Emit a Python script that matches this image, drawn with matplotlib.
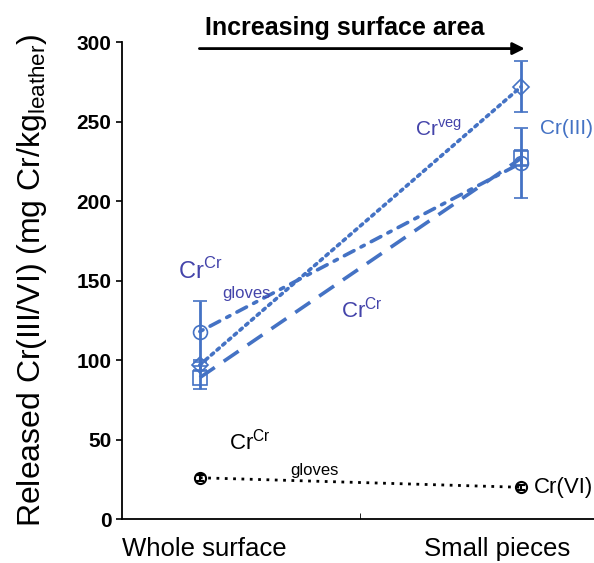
import numpy as np
import matplotlib.pyplot as plt

plt.rcParams['font.family'] = ['Liberation Sans', 'DejaVu Sans']

# x positions: whole surface / small pieces
x = np.array([1, 2])
xlabels = ['Whole surface', 'Small pieces']
xlabel_pos = [1.015, 1.925]

# Cr(III) series
veg = [97, 272]
veg_err = [3, 16]
gloves = [118, 224]
gloves_err = [19, 22]
crcr = [89, 227]
crcr_err = [7, 5]

# Cr(VI) series
cr6 = [26, 20]
cr6_err = [2, 1.5]

blue = '#4472c4'
lab = '#4444aa'

fig = plt.figure(figsize=(5.94, 5.63), dpi=100)
ax = fig.add_axes([0.205, 0.078, 0.795, 0.847])

ax.errorbar(x, gloves, yerr=gloves_err, color=blue, ls=(0, (1, 2.2, 3, 2.2)), lw=2.6,
            dash_capstyle='round', marker='o', ms=10, mfc='none', mec=blue, mew=1.2,
            capsize=5, elinewidth=2)
ax.errorbar(x, veg, yerr=veg_err, color=blue, ls=(0, (0.8, 1.3)), lw=2.6,
            dash_capstyle='round', marker='D', ms=8, mfc='none', mec=blue, mew=1.2,
            capsize=5, elinewidth=2)
ax.errorbar(x, crcr, yerr=crcr_err, color=blue, ls=(0, (5, 3)), lw=2.6,
            marker='s', ms=10, mfc='none', mec=blue, mew=1.2, capsize=5, elinewidth=2)
ax.errorbar(x, cr6, yerr=cr6_err, color='black', ls=(0, (1, 2)), lw=2,
            marker='o', ms=8, mfc='none', mec='black', mew=1.5, capsize=3, elinewidth=1.5)

ax.set_xlim(0.757, 2.227)
ax.set_ylim(0, 300)
ax.set_yticks(np.arange(0, 301, 50))
ax.set_xticks(xlabel_pos)
ax.set_xticklabels(xlabels, fontsize=18.5)
ax.tick_params(axis='x', length=0, pad=13)
ax.set_xticks([1.5], minor=True)
ax.tick_params(axis='x', which='minor', direction='in', length=4)
ax.tick_params(axis='y', labelsize=15, width=1.2, length=4)
for t in ax.get_yticklabels():
    t.set_fontweight('bold')
ax.spines['top'].set_visible(False)
ax.spines['right'].set_visible(False)
ax.spines['left'].set_linewidth(1.3)
ax.spines['bottom'].set_linewidth(1.3)

ax.set_ylabel('Released Cr(III/VI) (mg Cr/kg$_{\\mathregular{leather}}$)', fontsize=23, labelpad=20)

# labels
ax.text(1.67, 241, 'Cr$^{\\mathregular{veg}}$', color=lab, fontsize=15)
ax.text(1.0, 151, 'Cr$^{\\mathregular{Cr}}$', color=lab, fontsize=17, ha='center')
ax.text(1.07, 139, 'gloves', color=lab, fontsize=12)
ax.text(1.44, 127, 'Cr$^{\\mathregular{Cr}}$', color=lab, fontsize=16)
ax.text(2.06, 242, 'Cr(III)', color=blue, fontsize=15)
ax.text(1.09, 44, 'Cr$^{\\mathregular{Cr}}$', color='black', fontsize=16)
ax.text(1.28, 28, 'gloves', color='black', fontsize=12)
ax.text(2.04, 20, 'Cr(VI)', color='black', fontsize=16, va='center')

# top arrow
ax.annotate('', xy=(2.02, 296), xytext=(0.99, 296), xycoords='data',
            arrowprops=dict(arrowstyle='-|>', color='black', lw=2, mutation_scale=18),
            annotation_clip=False)
ax.text(1.45, 309, 'Increasing surface area', fontsize=18, fontweight='bold',
        ha='center', va='center')

fig.savefig('out.png', dpi=100)
